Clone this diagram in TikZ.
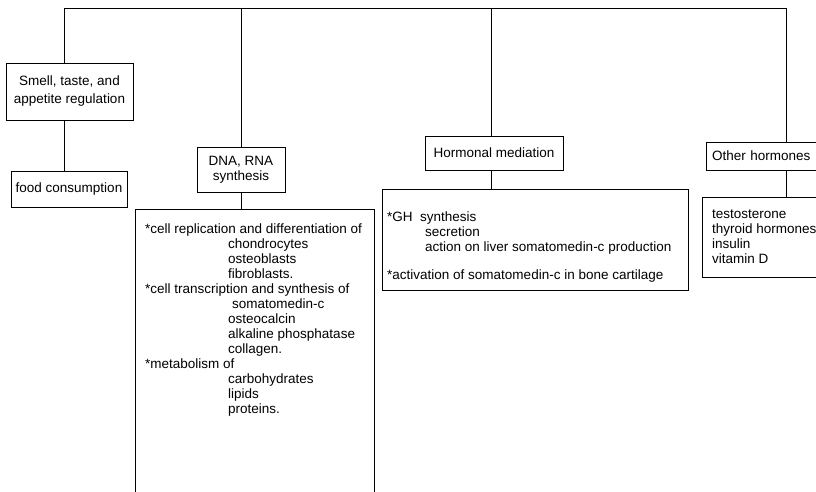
\documentclass[tikz,border=0pt]{standalone}
\usepackage{fontspec}
\setmainfont{Liberation Sans}
\usetikzlibrary{positioning}
\newcommand{\chartfont}{\fontsize{13.5}{15}\selectfont}
\tikzset{
  headbox/.style={rectangle, draw=black, line width=0.9pt, align=center,
    inner sep=0pt, font=\chartfont},
  listbox/.style={rectangle, draw=black, line width=0.9pt, inner sep=0pt},
  listtext/.style={anchor=north west, align=left, inner sep=0pt, font=\chartfont},
  link/.style={line width=0.9pt, color=black}
}

\begin{document}
\begin{tikzpicture}[x=1pt, y=-1pt]
  \useasboundingbox (0,0) rectangle (816,492);
  \clip (0,0) rectangle (816,492);
  % trunk points
  \coordinate (tsmell) at (64,8);
  \coordinate (tdna) at (241,8);
  \coordinate (thorm) at (491,8);
  \coordinate (tother) at (786,8);
  % head boxes
  \node[headbox, minimum width=127pt, minimum height=57pt] (smell) at (69.5,91.5)
    {Smell, taste, and\\[3pt]appetite regulation};
  \node[headbox, minimum width=116pt, minimum height=36pt] (food) at (69,189)
    {food consumption};
  \node[headbox, minimum width=88pt, minimum height=45pt] (dna) at (241,169.5)
    {DNA, RNA\\synthesis};
  \node[headbox, minimum width=138pt, minimum height=34pt] (hormonal) at (494,153)
    {Hormonal mediation};
  \node[headbox, text width=113pt, align=left, inner xsep=6pt, minimum height=28pt] (other) at (768.5,156)
    {Other hormones};
  % detail boxes
  \node[listbox, anchor=north west, minimum width=239pt, minimum height=300pt] (dnalist) at (135,209) {};
  \node[listbox, anchor=north west, minimum width=306pt, minimum height=101pt] (hormlist) at (382,189) {};
  \node[listbox, anchor=north west, minimum width=128pt, minimum height=80pt] (otherlist) at (702,197) {};
  % list texts
  \node[listtext] (dnatext) at (145,224) {%
    *cell replication and differentiation of\\
    \hspace*{83pt}chondrocytes\\
    \hspace*{83pt}osteoblasts\\
    \hspace*{83pt}fibroblasts.\\
    *cell transcription and synthesis of\\
    \hspace*{87pt}somatomedin-c\\
    \hspace*{83pt}osteocalcin\\
    \hspace*{83pt}alkaline phosphatase\\
    \hspace*{83pt}collagen.\\
    *metabolism of\\
    \hspace*{83pt}carbohydrates\\
    \hspace*{83pt}lipids\\
    \hspace*{83pt}proteins.};
  \node[listtext] (hormtext) at (387,212) {%
    \makebox[33pt][l]{*GH}synthesis\\
    \hspace*{38pt}secretion\\
    \hspace*{38pt}action on liver somatomedin-c production\\[13pt]
    *activation of somatomedin-c in bone cartilage};
  \node[listtext] (othertext) at (712,210) {%
    testosterone\\
    thyroid hormones\\
    insulin\\
    vitamin D};
  % connectors
  \draw[link] (tsmell) -- (tother);
  \draw[link] (tsmell) -- (smell.north -| tsmell);
  \draw[link] (smell.south -| tsmell) -- (food.north -| tsmell);
  \draw[link] (tdna) -- (dna.north);
  \draw[link] (dna.south) -- (dnalist.north -| dna.south);
  \draw[link] (thorm) -- (hormonal.north -| thorm);
  \draw[link] (hormonal.south -| thorm) -- (hormlist.north -| thorm);
  \draw[link] (tother) -- (other.north -| tother);
  \draw[link] (other.south -| tother) -- (otherlist.north -| tother);
\end{tikzpicture}
\end{document}
